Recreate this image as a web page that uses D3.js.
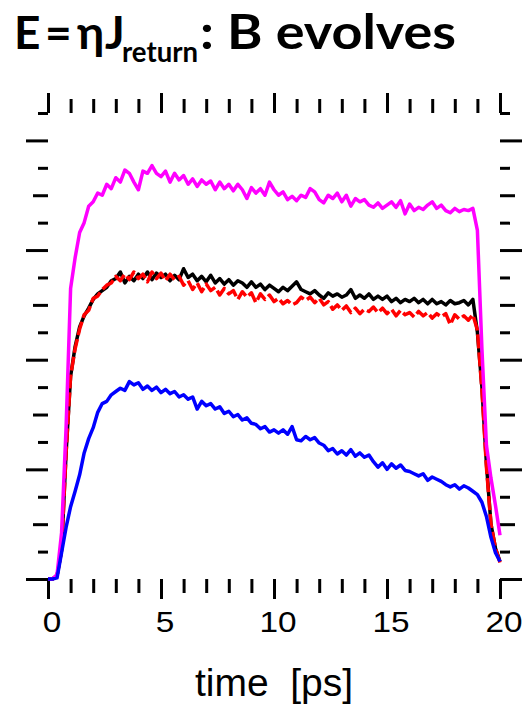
<!DOCTYPE html>
<meta charset="utf-8">
<style>
body { margin: 0; background: #fff; }
.tick line { stroke: #000; stroke-width: 3; }
.line { fill: none; stroke-width: 3.5; stroke-linejoin: round; }
</style>
<body>
<script src="https://d3js.org/d3.v7.min.js"></script>
<script>

// sample times, every 0.2 ps
var times = d3.range(0, 101).map(function(i) { return +(i * 0.2).toFixed(1); });

// magenta curve
var magenta = [0, 0, 0.04, 0.42, 1.38, 2.65, 2.93, 3.16, 3.25, 3.40,
  3.44, 3.52, 3.50, 3.60, 3.56, 3.66, 3.62, 3.73, 3.70, 3.62,
  3.55, 3.72, 3.70, 3.77, 3.70, 3.67, 3.72, 3.62, 3.70, 3.64,
  3.68, 3.60, 3.65, 3.58, 3.64, 3.60, 3.63, 3.55, 3.62, 3.56,
  3.60, 3.54, 3.60, 3.55, 3.47, 3.57, 3.52, 3.56, 3.50, 3.62,
  3.55, 3.50, 3.53, 3.46, 3.49, 3.45, 3.50, 3.48, 3.56, 3.53,
  3.46, 3.43, 3.50, 3.47, 3.52, 3.44, 3.50, 3.40, 3.47, 3.44,
  3.46, 3.41, 3.39, 3.43, 3.38, 3.41, 3.44, 3.39, 3.45, 3.33,
  3.42, 3.36, 3.39, 3.37, 3.41, 3.44, 3.38, 3.41, 3.36, 3.34,
  3.38, 3.35, 3.37, 3.36, 3.38, 3.18, 2.10, 1.22, 0.92, 0.67,
  0.40];

// black curve
var black = [0, 0, 0.03, 0.26, 1.15, 1.85, 2.12, 2.30, 2.40, 2.47,
  2.55, 2.60, 2.63, 2.66, 2.72, 2.74, 2.80, 2.70, 2.76, 2.72,
  2.78, 2.74, 2.80, 2.73, 2.79, 2.75, 2.78, 2.72, 2.77, 2.73,
  2.83, 2.75, 2.78, 2.72, 2.76, 2.71, 2.77, 2.70, 2.74, 2.69,
  2.73, 2.68, 2.72, 2.70, 2.66, 2.71, 2.66, 2.69, 2.64, 2.68,
  2.65, 2.62, 2.66, 2.63, 2.67, 2.71, 2.64, 2.62, 2.60, 2.63,
  2.59, 2.56, 2.61, 2.58, 2.60, 2.57, 2.59, 2.64, 2.56, 2.59,
  2.56, 2.60, 2.55, 2.58, 2.55, 2.58, 2.53, 2.56, 2.52, 2.55,
  2.53, 2.56, 2.52, 2.55, 2.51, 2.55, 2.51, 2.53, 2.50, 2.54,
  2.51, 2.52, 2.54, 2.50, 2.55, 2.25, 1.75, 1.05, 0.50, 0.28,
  0.16];

// red dashed curve
var red = [0, 0, 0.03, 0.26, 1.15, 1.85, 2.10, 2.28, 2.41, 2.45,
  2.56, 2.58, 2.64, 2.68, 2.70, 2.76, 2.72, 2.78, 2.73, 2.80,
  2.74, 2.78, 2.71, 2.80, 2.74, 2.79, 2.72, 2.78, 2.73, 2.76,
  2.68, 2.72, 2.64, 2.70, 2.62, 2.69, 2.63, 2.66, 2.59, 2.65,
  2.60, 2.63, 2.55, 2.62, 2.57, 2.61, 2.52, 2.60, 2.55, 2.59,
  2.53, 2.56, 2.51, 2.54, 2.50, 2.52, 2.57, 2.54, 2.57, 2.52,
  2.56, 2.50, 2.53, 2.46, 2.50, 2.45, 2.49, 2.43, 2.47, 2.42,
  2.46, 2.44, 2.48, 2.43, 2.47, 2.42, 2.46, 2.40, 2.45, 2.41,
  2.43, 2.39, 2.44, 2.40, 2.43, 2.38, 2.42, 2.39, 2.42, 2.32,
  2.41, 2.37, 2.40, 2.36, 2.41, 2.27, 1.72, 1.02, 0.50, 0.28,
  0.15];

// blue curve
var blue = [0, 0, 0.01, 0.24, 0.47, 0.66, 0.80, 0.95, 1.15, 1.28,
  1.38, 1.52, 1.60, 1.62, 1.68, 1.71, 1.74, 1.72, 1.80, 1.77,
  1.79, 1.73, 1.76, 1.72, 1.75, 1.70, 1.73, 1.69, 1.71, 1.66,
  1.68, 1.64, 1.66, 1.55, 1.62, 1.58, 1.60, 1.55, 1.57, 1.51,
  1.53, 1.48, 1.50, 1.45, 1.47, 1.42, 1.41, 1.37, 1.39, 1.34,
  1.36, 1.33, 1.36, 1.32, 1.39, 1.27, 1.26, 1.30, 1.27, 1.29,
  1.24, 1.22, 1.17, 1.19, 1.14, 1.17, 1.13, 1.18, 1.12, 1.15,
  1.11, 1.13, 1.07, 1.02, 1.06, 1.00, 1.05, 1.01, 1.04, 0.99,
  0.98, 0.96, 0.94, 0.96, 0.90, 0.93, 0.91, 0.89, 0.86, 0.84,
  0.86, 0.82, 0.85, 0.83, 0.80, 0.77, 0.70, 0.57, 0.38, 0.24,
  0.16];

var xTicks = d3.range(0, 21);
var yTicks = d3.range(0, 18).map(function(i) { return i * 0.25; });

var W = 524, H = 705;
var svg = d3.select("body").append("svg")
    .attr("width", W)
    .attr("height", H);

var x = d3.scaleLinear().domain([0, 20]).range([48, 500]);
var y = d3.scaleLinear().domain([0, 4.25]).range([579, 113]);

function xLen(d) { return d % 5 === 0 ? 20 : 14; }
function yLen(d) { return d % 1 === 0 ? 22 : (d % 0.5 === 0 ? 15 : 10); }

// bottom axis, with labels
svg.append("g")
    .attr("transform", "translate(0,579)")
    .call(d3.axisBottom(x).tickValues(xTicks).tickSize(20).tickPadding(12)
        .tickFormat(function(d) { return d % 5 === 0 ? d : ""; }))
    .call(function(g) {
        g.select(".domain").remove();
        g.selectAll(".tick line").attr("y2", xLen);
        g.selectAll(".tick text")
            .attr("font-family", "'Liberation Sans', Arial, sans-serif")
            .attr("font-size", 29)
            .attr("fill", "#000")
            .attr("transform", "translate(3.5,0) scale(1.15,1)");
    });

// top axis
svg.append("g")
    .attr("transform", "translate(0,113)")
    .call(d3.axisTop(x).tickValues(xTicks).tickFormat(""))
    .call(function(g) {
        g.select(".domain").remove();
        g.selectAll(".tick line").attr("y2", function(d) { return -xLen(d); });
    });

// left axis
svg.append("g")
    .attr("transform", "translate(48,0)")
    .call(d3.axisLeft(y).tickValues(yTicks).tickFormat(""))
    .call(function(g) {
        g.select(".domain").remove();
        g.selectAll(".tick line").attr("x2", function(d) { return -yLen(d); });
    });

// right axis
svg.append("g")
    .attr("transform", "translate(500,0)")
    .call(d3.axisRight(y).tickValues(yTicks).tickFormat(""))
    .call(function(g) {
        g.select(".domain").remove();
        g.selectAll(".tick line").attr("x2", yLen);
    });

var line = d3.line()
    .x(function(d) { return x(d[0]); })
    .y(function(d) { return y(d[1]); });

function series(vals) { return times.map(function(t, i) { return [t, vals[i]]; }); }

svg.append("path").attr("class", "line").attr("stroke", "#000000").attr("d", line(series(black)));
svg.append("path").attr("class", "line").attr("stroke", "#ff0000")
    .attr("stroke-dasharray", "14,4").attr("d", line(series(red)));
svg.append("path").attr("class", "line").attr("stroke", "#ff00ff").attr("d", line(series(magenta)));
svg.append("path").attr("class", "line").attr("stroke", "#0000ff").attr("d", line(series(blue)));

// x label
svg.append("text")
    .attr("x", 274)
    .attr("y", 696)
    .attr("text-anchor", "middle")
    .attr("font-family", "'Liberation Sans', Arial, sans-serif")
    .attr("font-size", 39)
    .attr("xml:space", "preserve")
    .style("white-space", "pre")
    .text("time  [ps]");

// title: one text, glyphs placed by hand to mimic the tighter original font
var title = svg.append("text")
    .attr("y", 49)
    .attr("font-family", "Lato, 'Open Sans', sans-serif")
    .attr("font-weight", "bold")
    .attr("font-size", 46)
    .attr("fill", "#000");
title.append("tspan").attr("x", 14).text("E");
title.append("tspan").attr("x", 45).text("=");
title.append("tspan").attr("x", 77).text("η");
title.append("tspan").attr("x", 105).text("J");
title.append("tspan").attr("x", 122).attr("y", 62).attr("font-size", 28)
    .attr("textLength", 76).attr("lengthAdjust", "spacingAndGlyphs").text("return");
title.append("tspan").attr("x", 200).attr("y", 49).attr("font-size", 47)
    .attr("textLength", 256).attr("lengthAdjust", "spacingAndGlyphs").text(": B evolves");

</script>
</body>
